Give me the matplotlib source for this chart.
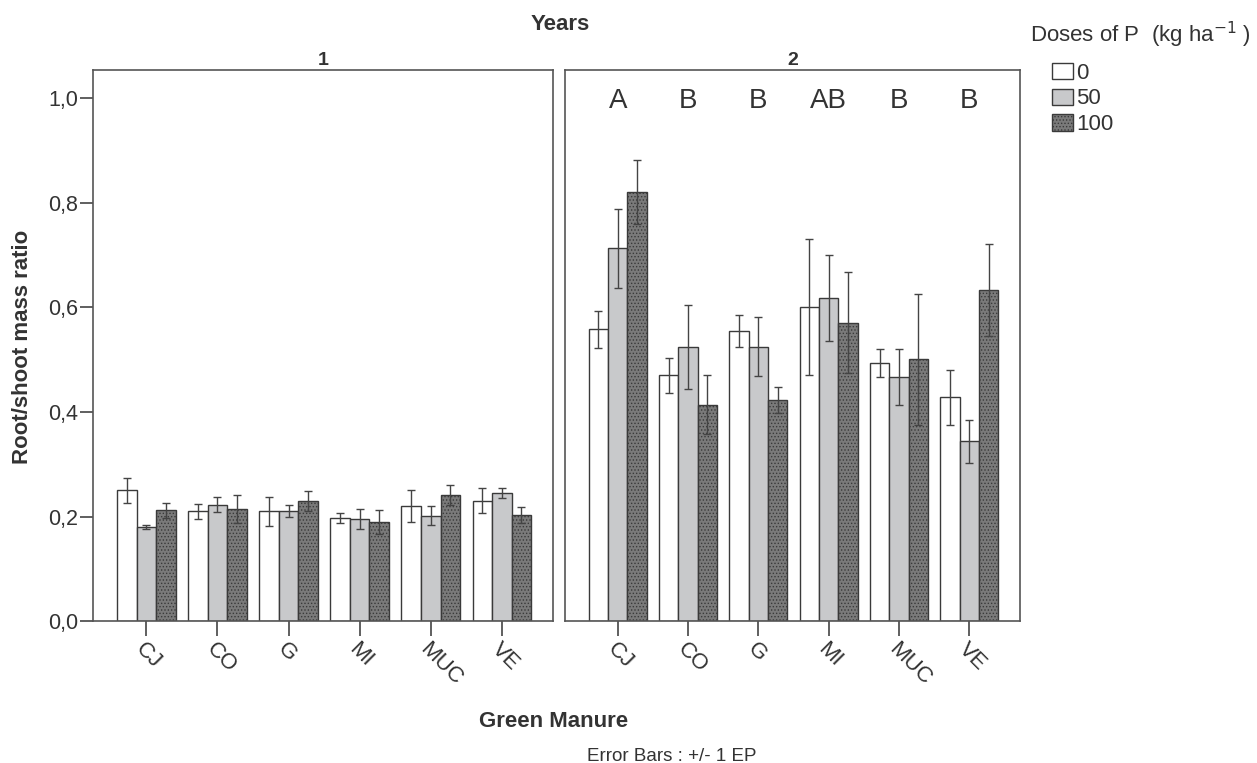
import numpy as np
import matplotlib
matplotlib.use('Agg')
import matplotlib.pyplot as plt
from matplotlib.patches import Patch

plt.rcParams['font.family'] = ['Liberation Sans', 'DejaVu Sans']
plt.rcParams['hatch.linewidth'] = 0.6

# ---------------------------------------------------------------
###  Data
# ---------------------------------------------------------------
manures = ['CJ', 'CO', 'G', 'MI', 'MUC', 'VE']
doses = ['0', '50', '100']
letters_y2 = ['A', 'B', 'B', 'AB', 'B', 'B']

y1_d0 = [0.250, 0.210, 0.210, 0.197, 0.220, 0.230]
y1_d50 = [0.180, 0.223, 0.211, 0.195, 0.202, 0.245]
y1_d100 = [0.212, 0.215, 0.230, 0.189, 0.241, 0.203]
y1_e0 = [0.024, 0.014, 0.028, 0.009, 0.030, 0.024]
y1_e50 = [0.003, 0.015, 0.011, 0.019, 0.018, 0.010]
y1_e100 = [0.014, 0.027, 0.019, 0.023, 0.019, 0.015]

y2_d0 = [0.558, 0.470, 0.555, 0.601, 0.494, 0.428]
y2_d50 = [0.713, 0.524, 0.525, 0.618, 0.467, 0.344]
y2_d100 = [0.821, 0.414, 0.423, 0.571, 0.501, 0.633]
y2_e0 = [0.036, 0.034, 0.031, 0.130, 0.027, 0.052]
y2_e50 = [0.075, 0.080, 0.056, 0.083, 0.054, 0.041]
y2_e100 = [0.062, 0.057, 0.025, 0.097, 0.125, 0.088]

fills = ['white', '#c8c9cb', '#7a7a7a']
hatches = [None, None, '.....']
edge = '#3a3a3a'
txt = '#333333'

fig = plt.figure(figsize=(12.57, 7.63), dpi=100)
# panel boxes (pixels: 93-553 and 565-1020, top 70, bottom 621)
ax1 = fig.add_axes([0.0740, 0.186, 0.3660, 0.722])
ax2 = fig.add_axes([0.4495, 0.186, 0.3620, 0.722])

x = np.arange(len(manures))
w = 0.275

def draw_panel(ax, vals, errs):
    for k in range(3):
        ax.bar(x + (k - 1) * w, vals[k], w, color=fills[k], edgecolor=edge,
               linewidth=1.0, hatch=hatches[k], zorder=2)
        ax.errorbar(x + (k - 1) * w, vals[k], yerr=errs[k], fmt='none',
                    ecolor='#444444', elinewidth=1.0, capsize=3, capthick=1.0, zorder=3)
    ax.set_xlim(-0.75, 5.72)
    ax.set_ylim(0, 1.054)
    ax.set_xticks(x)
    ax.set_xticklabels(manures, rotation=-45, ha='left', va='top',
                       rotation_mode='anchor', fontsize=16, color=txt)
    ax.tick_params(axis='x', length=11, width=1.2, color='#444444', pad=2)
    for s in ax.spines.values():
        s.set_color('#555555')
        s.set_linewidth(1.2)

draw_panel(ax1, [y1_d0, y1_d50, y1_d100], [y1_e0, y1_e50, y1_e100])
draw_panel(ax2, [y2_d0, y2_d50, y2_d100], [y2_e0, y2_e50, y2_e100])

ax1.set_yticks([0, 0.2, 0.4, 0.6, 0.8, 1.0])
ax1.set_yticklabels(['0,0', '0,2', '0,4', '0,6', '0,8', '1,0'], fontsize=15.5, color=txt)
ax1.tick_params(axis='y', length=9.5, width=1.2, color='#444444', pad=1)
ax2.set_yticks([])

for i, lt in enumerate(letters_y2):
    ax2.text(x[i], 0.995, lt, ha='center', va='center', fontsize=20, color=txt)

ax1.set_title('1', fontsize=14, fontweight='bold', pad=4, color=txt)
ax2.set_title('2', fontsize=14, fontweight='bold', pad=4, color=txt)

fig.text(0.4455, 0.968, 'Years', ha='center', va='center', fontsize=16, fontweight='bold', color=txt)
fig.text(0.44, 0.054, 'Green Manure', ha='center', va='center', fontsize=16, fontweight='bold', color=txt)
fig.text(0.5345, 0.009, 'Error Bars : +/- 1 EP', ha='center', va='center', fontsize=13.5, color=txt)
fig.text(0.018, 0.545, 'Root/shoot mass ratio', rotation=90, ha='center', va='center',
         fontsize=16, fontweight='bold', color=txt)

fig.text(0.8195, 0.954, 'Doses of P  (kg ha$^{-1}$ )', ha='left', va='center', fontsize=16, color=txt)
handles = [Patch(facecolor=fills[k], edgecolor=edge, hatch=hatches[k], linewidth=1.0) for k in range(3)]
leg = fig.legend(handles, doses, loc='upper left', bbox_to_anchor=(0.837, 0.918),
                 frameon=False, fontsize=16, handlelength=0.95, handleheight=0.75,
                 handletextpad=0.15, labelspacing=0.22, borderaxespad=0, borderpad=0)
for t in leg.get_texts():
    t.set_color(txt)

fig.savefig('out.png', dpi=100)
